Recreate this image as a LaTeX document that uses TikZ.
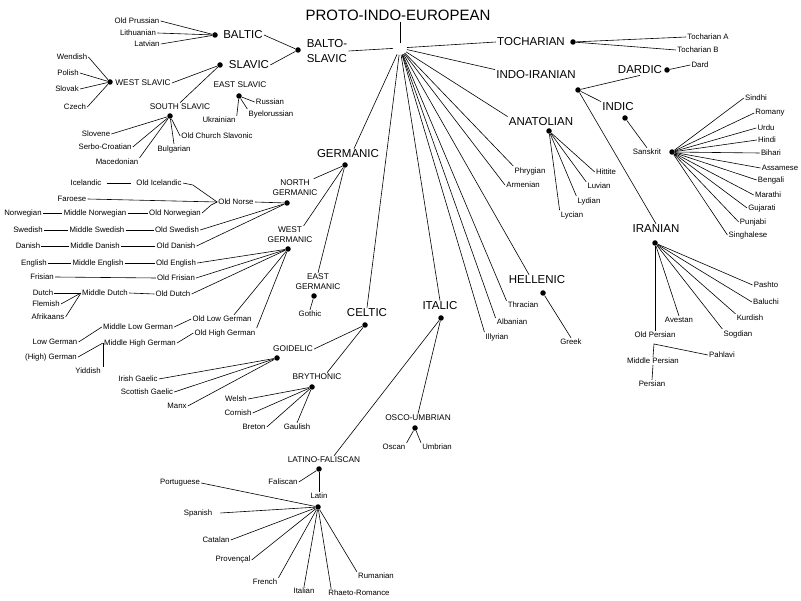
\documentclass[tikz,border=0pt]{standalone}
\usepackage{fontspec}
\setmainfont{Liberation Sans}
\begin{document}
\begin{tikzpicture}[x=1pt,y=-1pt,line width=0.6pt,
 lsmall/.style={font=\fontsize{7.8}{9}\selectfont,inner sep=1pt},
 lmid/.style={font=\fontsize{8.3}{10}\selectfont,inner sep=1pt,align=center},
 lbig/.style={font=\fontsize{11.5}{15}\selectfont,inner sep=1pt,align=left},
 jdot/.style={circle,fill=black,inner sep=0pt,minimum size=5.5pt},
 fan/.style={shorten <=7pt},
 gap/.style={shorten <=4pt,shorten >=4pt}]
\useasboundingbox (0,0) rectangle (801,601);
% root
\node[inner sep=1pt,font=\fontsize{15}{16}\selectfont] (pie) at (398,15) {PROTO-INDO-EUROPEAN};
\coordinate (root) at (400,48);
\draw (pie.south -| root) -- ([yshift=5pt]root);
% ---------- level 1 ----------
\node[lbig] (bs) at (327,51) {BALTO-\\SLAVIC};
\node[lbig] (toch) at (531,42) {TOCHARIAN};
\node[lbig] (ii) at (536,75) {INDO-IRANIAN};
\node[lbig] (anat) at (541,122) {ANATOLIAN};
\node[lsmall] (phryg) at (530,171) {Phrygian};
\node[lsmall] (armen) at (523,185) {Armenian};
\node[lbig] (hell) at (537,280) {HELLENIC};
\node[lsmall] (thrac) at (523,305) {Thracian};
\node[lsmall] (alban) at (512,322) {Albanian};
\node[lsmall] (illyr) at (497,337) {Illyrian};
\node[lbig] (ital) at (440,306) {ITALIC};
\node[lbig] (celt) at (367,313) {CELTIC};
\node[lbig] (germ) at (348,154) {GERMANIC};
\draw[fan] (root) -- (bs.east);
\draw[fan] (root) -- (toch.west);
\draw[fan] (root) -- (ii.north west);
\draw[fan] (root) -- (anat.north west);
\draw[fan] (root) -- (phryg.north west);
\draw[fan] (root) -- (armen.west);
\draw[fan] (root) -- ([xshift=-8pt]hell.north);
\draw[fan] (root) -- (thrac.north west);
\draw[fan] (root) -- (alban.north west);
\draw[fan] (root) -- (illyr.north west);
\draw[fan] (root) -- (ital.north);
\draw[fan] (root) -- (celt.north);
\draw[fan] (root) -- ([xshift=6pt]germ.north);
% ---------- Balto-Slavic ----------
\node[jdot] (bsd) at (298,50) {};
\node[lbig] (baltic) at (243,35) {BALTIC};
\node[jdot] (balticd) at (215,35) {};
\node[lbig] (slavic) at (249,65) {SLAVIC};
\node[jdot] (slavicd) at (220,65) {};
\draw (baltic.east) -- (bsd);
\draw (slavic.east) -- (bsd);
\node[lsmall] (oprus) at (137,21) {Old Prussian};
\node[lsmall] (lith) at (138,33) {Lithuanian};
\node[lsmall] (latv) at (147,44) {Latvian};
\draw (oprus.east) -- (balticd);
\draw (lith.east) -- (balticd);
\draw (latv.east) -- (balticd);
\node[lmid] (wsl) at (143,83) {WEST SLAVIC};
\node[jdot] (wsld) at (110,82) {};
\draw (wsl.east) -- (slavicd);
\node[lsmall] (wend) at (72,57) {Wendish};
\node[lsmall] (pol) at (68,73) {Polish};
\node[lsmall] (slk) at (67,89) {Slovak};
\node[lsmall] (cze) at (75,107) {Czech};
\foreach \n in {wend,pol,slk,cze} \draw (\n.east) -- (wsld);
\node[lmid] (ssl) at (180,107) {SOUTH SLAVIC};
\node[jdot] (ssld) at (170,116) {};
\draw (slavicd) -- (ssl.north);
\node[lsmall] (slvn) at (96,134) {Slovene};
\node[lsmall] (serb) at (105,147) {Serbo-Croatian};
\node[lsmall] (mace) at (117,162) {Macedonian};
\node[lsmall] (bulg) at (174,149) {Bulgarian};
\node[lsmall] (ocs) at (217,136) {Old Church Slavonic};
\draw (ssld) -- (slvn.east);
\draw (ssld) -- (serb.east);
\draw (ssld) -- (mace.north east);
\draw (ssld) -- (bulg.north);
\draw (ssld) -- (ocs.west);
\node[lmid] (esl) at (240,85) {EAST SLAVIC};
\node[jdot] (esld) at (239,96) {};
\node[lsmall] (russ) at (270,102) {Russian};
\node[lsmall] (byel) at (271,114) {Byelorussian};
\node[lsmall] (ukr) at (219,120) {Ukrainian};
\draw (esld) -- (russ.west);
\draw (esld) -- (byel.north west);
\draw (esld) -- (ukr.north east);
% ---------- Tocharian ----------
\node[jdot] (tochd) at (573,42) {};
\node[lsmall] (tA) at (708,37) {Tocharian A};
\node[lsmall] (tB) at (698,50) {Tocharian B};
\draw (tochd) -- (tA.west);
\draw (tochd) -- (tB.west);
% ---------- Indo-Iranian ----------
\node[jdot] (iid) at (578,90) {};
\node[lbig] (dardic) at (640,70) {DARDIC};
\node[jdot] (dardicd) at (667,70) {};
\node[lsmall] (dard) at (700,65) {Dard};
\draw (iid) -- (dardic.south);
\draw (dardicd) -- (dard.west);
\node[lbig] (indic) at (618,107) {INDIC};
\node[jdot] (indicd) at (625,118) {};
\draw (iid) -- (indic.north west);
\node[lbig] (iran) at (656,229) {IRANIAN};
\node[jdot] (irand) at (655,243) {};
\draw (iid) -- (iran.north);
\node[lsmall] (sansk) at (647,152) {Sanskrit};
\node[jdot] (sanskd) at (672,152) {};
\draw (indicd) -- (sansk.north);
\node[lsmall] (sindhi) at (756,98) {Sindhi};
\node[lsmall] (romany) at (770,113) {Romany};
\node[lsmall] (urdu) at (766,128) {Urdu};
\node[lsmall] (hindi) at (767,140) {Hindi};
\node[lsmall] (bihari) at (771,153) {Bihari};
\node[lsmall] (assam) at (780,168) {Assamese};
\node[lsmall] (beng) at (771,180) {Bengali};
\node[lsmall] (marathi) at (768,195) {Marathi};
\node[lsmall] (gujar) at (762,208) {Gujarati};
\node[lsmall] (punj) at (753,222) {Punjabi};
\node[lsmall] (singh) at (748,235) {Singhalese};
\foreach \n in {sindhi,romany,urdu,hindi,bihari,assam,beng,marathi,gujar,punj,singh} \draw (sanskd) -- (\n.west);
\node[lsmall] (pashto) at (766,285) {Pashto};
\node[lsmall] (baluchi) at (766,302) {Baluchi};
\node[lsmall] (kurd) at (750,318) {Kurdish};
\node[lsmall] (sogd) at (738,334) {Sogdian};
\node[lsmall] (avest) at (679,320) {Avestan};
\node[lsmall] (oldpers) at (655,335) {Old Persian};
\draw (irand) -- (pashto.west);
\draw (irand) -- (baluchi.west);
\draw (irand) -- (kurd.north west);
\draw (irand) -- (sogd.north west);
\draw (irand) -- (avest.north);
\draw (irand) -- (oldpers.north);
\coordinate (opj) at (654,344);
\node[lsmall] (pahlavi) at (722,355) {Pahlavi};
\node[lsmall] (midpers) at (653,361) {Middle Persian};
\node[lsmall] (persian) at (652,384) {Persian};
\draw (pahlavi.west) -- (opj) -- (midpers.north);
\draw (midpers.south) -- (persian.north);
% ---------- Anatolian ----------
\node[jdot] (anatd) at (549,131) {};
\node[lsmall] (hitt) at (606,172) {Hittite};
\node[lsmall] (luv) at (599,186) {Luvian};
\node[lsmall] (lyd) at (589,201) {Lydian};
\node[lsmall] (lyc) at (572,215) {Lycian};
\draw (anatd) -- (hitt.west);
\draw (anatd) -- (luv.north west);
\draw (anatd) -- (lyd.north west);
\draw (anatd) -- (lyc.north west);
% ---------- Hellenic ----------
\node[jdot] (helld) at (543,293) {};
\node[lsmall] (greek) at (571,342) {Greek};
\draw (helld) -- (greek.north);
% ---------- Italic ----------
\node[jdot] (itald) at (441,318) {};
\node[lmid] (osco) at (418,418) {OSCO-UMBRIAN};
\node[jdot] (oscod) at (415,428) {};
\node[lsmall] (oscan) at (394,447) {Oscan};
\node[lsmall] (umbr) at (437,447) {Umbrian};
\draw (itald) -- (osco.north);
\draw (oscod) -- (oscan.north east);
\draw (oscod) -- (umbr.north west);
\node[lmid] (latfal) at (324,460) {LATINO-FALISCAN};
\node[jdot] (latfald) at (319,469) {};
\draw (itald) -- ([xshift=10pt]latfal.north);
\node[lsmall] (falis) at (283,482) {Faliscan};
\node[lsmall] (latin) at (319,496) {Latin};
\node[jdot] (latind) at (318,507) {};
\draw (latfald) -- (falis.east);
\draw (latfald) -- (latin.north);
\node[lsmall] (port) at (180,483) {Portuguese};
\node[lsmall] (span) at (198,513) {Spanish};
\node[lsmall] (catal) at (216,540) {Catalan};
\node[lsmall] (prov) at (233,560) {Provençal};
\node[lsmall] (french) at (265,582) {French};
\node[lsmall] (italian) at (304,591) {Italian};
\node[lsmall] (rhaeto) at (359,593) {Rhaeto-Romance};
\node[lsmall] (ruman) at (376,576) {Rumanian};
\draw (latind) -- (port.east);
\draw (latind) -- ([xshift=7pt]span.east);
\draw (latind) -- (catal.east);
\draw (latind) -- (prov.east);
\draw (latind) -- (french.north east);
\draw (latind) -- (italian.north);
\draw (latind) -- ([xshift=4pt]rhaeto.north west);
\draw (latind) -- (ruman.north west);
% ---------- Celtic ----------
\node[jdot] (celtd) at (365,325) {};
\node[lmid] (goid) at (293,349) {GOIDELIC};
\node[jdot] (goidd) at (277,358) {};
\node[lmid] (bryth) at (317,377) {BRYTHONIC};
\node[jdot] (brythd) at (312,387) {};
\draw (celtd) -- (goid.east);
\draw (celtd) -- ([xshift=10pt]bryth.north);
\node[lsmall] (irish) at (138,379) {Irish Gaelic};
\node[lsmall] (scot) at (147,392) {Scottish Gaelic};
\node[lsmall] (manx) at (177,406) {Manx};
\foreach \n in {irish,scot,manx} \draw (goidd) -- (\n.east);
\node[lsmall] (welsh) at (236,399) {Welsh};
\node[lsmall] (cornish) at (238,413) {Cornish};
\node[lsmall] (breton) at (254,427) {Breton};
\node[lsmall] (gaulish) at (297,427) {Gaulish};
\foreach \n in {welsh,cornish,breton} \draw (brythd) -- (\n.east);
\draw (brythd) -- (gaulish.north);
% ---------- Germanic ----------
\node[jdot] (germd) at (345,165) {};
\node[lmid] (ngerm) at (295,188) {NORTH\\GERMANIC};
\node[jdot] (ngermd) at (287,203) {};
\node[lmid] (wgerm) at (290,235) {WEST\\GERMANIC};
\node[jdot] (wgermd) at (288,249) {};
\node[lmid] (egerm) at (318,282) {EAST\\GERMANIC};
\node[jdot] (egermd) at (314,296) {};
\node[lsmall] (gothic) at (310,314) {Gothic};
\draw (germd) -- ([xshift=-5pt]ngerm.north east);
\draw (germd) -- ([xshift=-10pt]wgerm.north east);
\draw (germd) -- (egerm.north);
\draw (egermd) -- (gothic.north);
% North Germanic
\node[lsmall] (oldnorse) at (236,202) {Old Norse};
\node[lsmall] (oldswed) at (177,230) {Old Swedish};
\node[lsmall] (olddan) at (176,246) {Old Danish};
\draw (oldnorse.east) -- (ngermd);
\draw (oldswed.east) -- (ngermd);
\draw (olddan.east) -- (ngermd);
\node[lsmall] (oldice) at (159,183) {Old Icelandic};
\node[lsmall] (faroese) at (72,199) {Faroese};
\node[lsmall] (oldnorw) at (175,213) {Old Norwegian};
\draw (oldice.east) -- ++(10,2) -- (oldnorse.west);
\draw (faroese.east) -- (oldnorse.west);
\draw (oldnorw.east) -- ++(9,-8) -- (oldnorse.west);
\node[lsmall] (icel) at (86,183) {Icelandic};
\node[lsmall] (norw) at (23,213) {Norwegian};
\node[lsmall] (midnorw) at (95,213) {Middle Norwegian};
\node[lsmall] (swed) at (28,230) {Swedish};
\node[lsmall] (midswed) at (97,230) {Middle Swedish};
\node[lsmall] (dan) at (28,246) {Danish};
\node[lsmall] (middan) at (95,246) {Middle Danish};
\draw[gap] (icel.east) -- (oldice.west);
\draw (norw.east) -- (midnorw.west);
\draw (midnorw.east) -- (oldnorw.west);
\draw (swed.east) -- (midswed.west);
\draw (midswed.east) -- (oldswed.west);
\draw (dan.east) -- (middan.west);
\draw (middan.east) -- (olddan.west);
% West Germanic
\node[lsmall] (oldeng) at (176,263) {Old English};
\node[lsmall] (oldfris) at (176,278) {Old Frisian};
\node[lsmall] (olddutch) at (173,294) {Old Dutch};
\node[lsmall] (olg) at (222,319) {Old Low German};
\node[lsmall] (ohg) at (225,333) {Old High German};
\draw (wgermd) -- (oldeng.east);
\draw (wgermd) -- (oldfris.east);
\draw (wgermd) -- (olddutch.east);
\draw (wgermd) -- ([xshift=12pt]olg.north);
\draw (wgermd) -- (ohg.north east);
\node[lsmall] (eng) at (34,263) {English};
\node[lsmall] (mideng) at (98,263) {Middle English};
\node[lsmall] (fris) at (42,277) {Frisian};
\node[lsmall] (dutch) at (43,293) {Dutch};
\node[lsmall] (middutch) at (105,293) {Middle Dutch};
\node[lsmall] (flem) at (46,304) {Flemish};
\node[lsmall] (afrik) at (48,317) {Afrikaans};
\draw (eng.east) -- (mideng.west);
\draw (mideng.east) -- (oldeng.west);
\draw (fris.east) -- (oldfris.west);
\draw (dutch.east) -- (middutch.west);
\draw (flem.east) -- (middutch.west);
\draw (afrik.east) -- (middutch.west);
\draw (middutch.east) -- (olddutch.west);
\node[lsmall] (mlg) at (138,327) {Middle Low German};
\node[lsmall] (lowg) at (55,342) {Low German};
\node[lsmall] (mhg) at (140,343) {Middle High German};
\node[lsmall] (highg) at (51,357) {(High) German};
\node[lsmall] (yidd) at (88,371) {Yiddish};
\draw (mlg.east) -- (olg.west);
\draw (lowg.east) -- (mlg.west);
\draw (mhg.east) -- (ohg.west);
\draw (highg.east) -- (mhg.west);
\draw (mhg.west) -- (mhg.west |- yidd.north);
\end{tikzpicture}
\end{document}
